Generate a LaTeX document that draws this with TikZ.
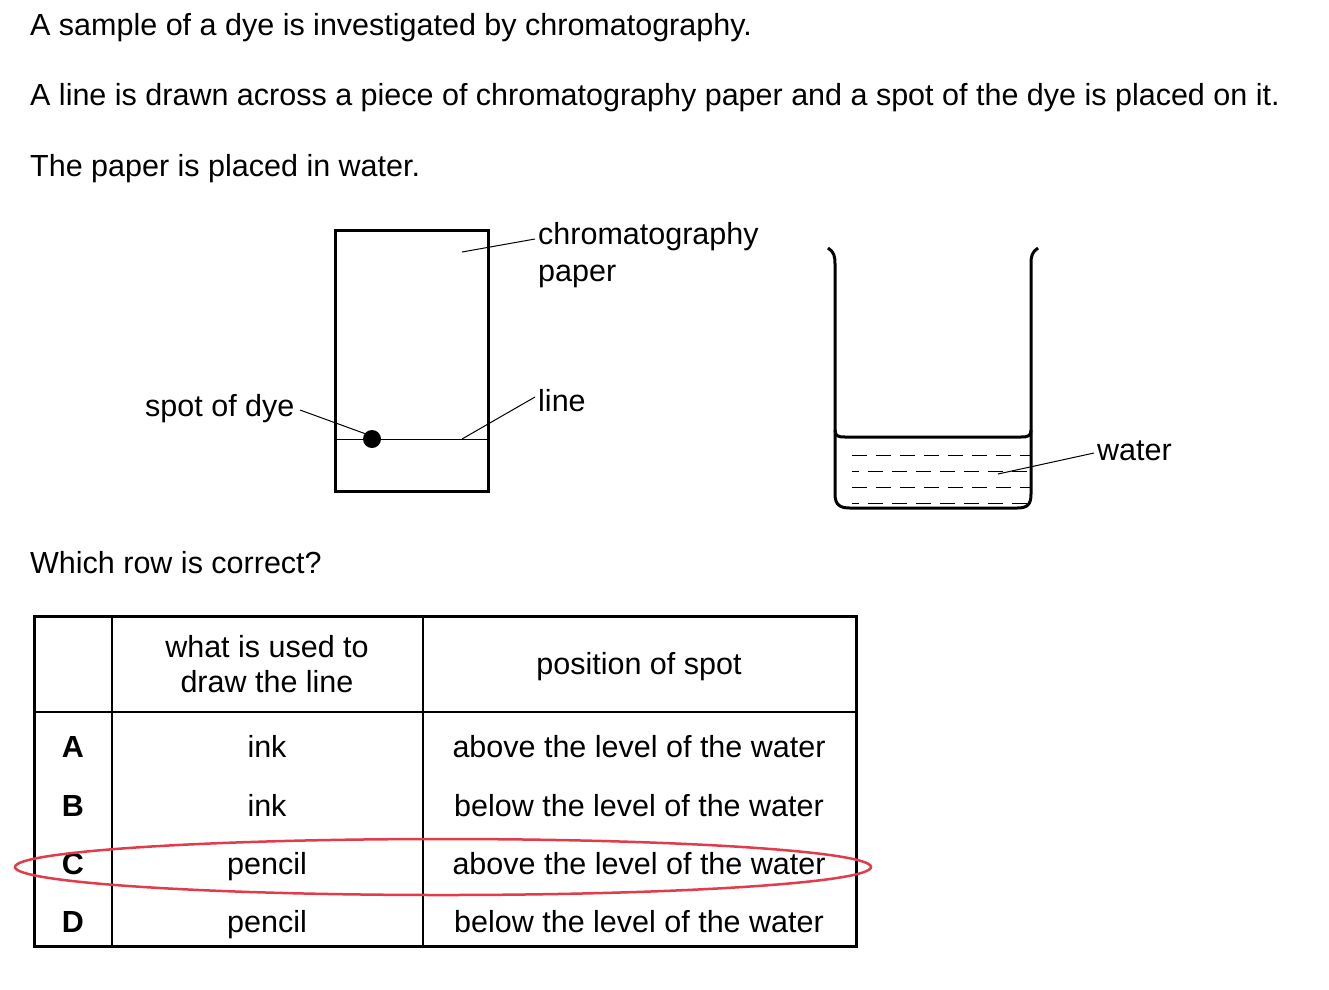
\documentclass[tikz,border=0pt]{standalone}
\usepackage{fontspec}
\setmainfont{Liberation Sans}
\begin{document}
\begin{tikzpicture}[x=1pt,y=-1pt,
  txt/.style={inner sep=0pt,font=\fontsize{30.5}{34}\selectfont},
  lft/.style={txt,anchor=base west},
  ctr/.style={txt,anchor=base},
  thick2/.style={line width=3pt},
  lead/.style={line width=1pt}]
\useasboundingbox (0,0) rectangle (1329,989);
\node[lft] (t1) at (30,35) {A sample of a dye is investigated by chromatography.};
\node[lft] (t2) at (30,105) {A line is drawn across a piece of chromatography paper and a spot of the dye is placed on it.};
\node[lft] (t3) at (30,176) {The paper is placed in water.};
% paper
\draw[thick2] (335,230) rectangle (488,491);
\draw[lead] (335,439) -- (488,439);
\fill (372,439) circle (9);
\coordinate (pp) at (462,252);
\coordinate (lp) at (462,439);
\coordinate (sp) at (366,434);
\node[lft] (cp) at (538,244) {chromatography};
\node[lft] (cp2) at (538,281) {paper};
\node[lft] (ln) at (538,411) {line};
\node[lft] (sd) at (145,416) {spot of dye};
\draw[lead] (pp) -- (535,239);
\draw[lead] (lp) -- (535,397);
\draw[lead] (sp) -- (300,410);
% beaker
\draw[thick2,line join=round] (828,248) .. controls (834,252) and (835,256) .. (835,264) -- (835,494) .. controls (835,505) and (840,508) .. (850,508) -- (1017,508) .. controls (1027,508) and (1031,505) .. (1031,494) -- (1031,264) .. controls (1031,256) and (1032,252) .. (1038,248);
\draw[thick2] (835,430) .. controls (835,436) and (838,437) .. (845,437) -- (1021,437) .. controls (1028,437) and (1031,436) .. (1031,430);
\foreach \yy/\ph in {455/0,471/8,487/0,503/8}
  \draw[lead,dash pattern=on 15pt off 9pt,dash phase=\ph] (852,\yy) -- (1031,\yy);
\coordinate (wp) at (998,474);
\node[lft] (wt) at (1097,460) {water};
\draw[lead] (wp) -- (1094,453);
\node[lft] (q) at (30,573) {Which row is correct?};
% table
\draw[thick2] (34,616) rectangle (856,946);
\draw[line width=2pt] (112,616) -- (112,946) (423,616) -- (423,946) (34,712) -- (856,712);
\node[ctr] (h1) at (267,657) {what is used to};
\node[ctr] (h1b) at (267,692) {draw the line};
\node[ctr] (h2) at (639,674) {position of spot};
\foreach \yy/\L/\a/\b in {757/A/ink/above,816/B/ink/below,874/C/pencil/above,932/D/pencil/below}{
  \node[ctr,font=\fontsize{30.5}{34}\selectfont\bfseries] at (73,\yy) {\L};
  \node[ctr] at (267,\yy) {\a};
  \node[ctr] at (639,\yy) {\b\ the level of the water};
}
\draw[line width=2.5pt,color={rgb,255:red,225;green,60;blue,75}] (443,867) ellipse [x radius=428,y radius=28];
\end{tikzpicture}
\end{document}
